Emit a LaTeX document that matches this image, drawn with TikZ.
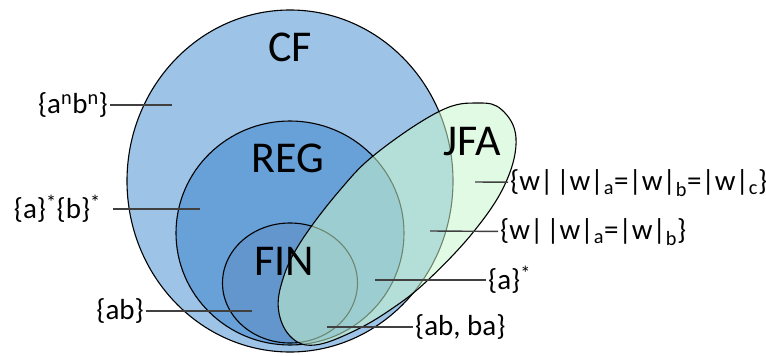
\documentclass[tikz,border=0pt]{standalone}
\usepackage{fontspec}
\setmainfont{Carlito}
\usetikzlibrary{shapes.geometric,positioning}
\definecolor{cfcolor}{RGB}{157,195,230}
\definecolor{regcolor}{RGB}{104,160,216}
\definecolor{fincolor}{RGB}{98,150,204}
\definecolor{jfacolor}{RGB}{200,245,205}

\begin{document}
\begin{tikzpicture}[x=1pt,y=-1pt]
  %%Create the styles for the classes, their names and the examples
  \tikzset{class/.style={draw=black,line width=1.1pt,ellipse,inner sep=0pt}}
  \tikzset{class name/.style={font=\fontsize{44}{48}\selectfont,inner sep=0pt}}
  \tikzset{example/.style={font=\fontsize{29}{32}\selectfont,inner sep=2pt}}
  \tikzset{pointer/.style={draw=black!75,line width=1.4pt}}
  \useasboundingbox (0,0) rectangle (766,356);
  %%The nested classes
  \node[class,fill=cfcolor,minimum width=326pt,minimum height=342pt] (cf) at (290,181) {};
  \node[class,fill=regcolor,minimum width=228pt,minimum height=224pt] (reg) at (290,233) {};
  \node[class,fill=fincolor,minimum width=135pt,minimum height=120pt] (fin) at (290,283) {};
  %%JFA is egg shaped, so it goes through points of its own
  \path[draw=black,line width=1.1pt,fill=jfacolor,fill opacity=.55]
    plot[smooth cycle,tension=.65] coordinates {(279,313) (292,338) (315,345) (352,332) (390,310)
      (428,280) (475,230) (506,182) (516,138) (502,110) (478,103) (440,111) (378,152)
      (340,190) (300,243) (282,282)};
  %%Class names
  \node[class name] (cfname) at (290,47) {CF};
  \node[class name] (regname) at (288,158) {REG};
  \node[class name] (finname) at (284,261) {FIN};
  \node[class name] (jfaname) at (472,142) {JFA};
  %%Points inside the classes where the pointers end
  \path (172,105) coordinate (in cf) (200,209) coordinate (in reg) (252,311) coordinate (in fin);
  \path (475,182) coordinate (in jfa) (430,231) coordinate (in jfacf) (375,280) coordinate (in jfareg) (327,327) coordinate (in jfafin);
  %%The examples
  \node[example,anchor=east] (anbn) at (110,105) {\{a\textsuperscript{n}b\textsuperscript{n}\}};
  \node[example,anchor=east] (astbst) at (103,209) {\{a\}\textsuperscript{*}\{b\}\textsuperscript{*}};
  \node[example,anchor=east] (ab) at (146,311) {\{ab\}};
  \node[example,anchor=west] (wabc) at (508,183) {\{w|\hspace{3pt}|w|\textsubscript{a}=|w|\textsubscript{b}=|w|\textsubscript{c}\}};
  \node[example,anchor=west] (wab) at (498,232) {\{w|\hspace{3pt}|w|\textsubscript{a}=|w|\textsubscript{b}\}};
  \node[example,anchor=west] (ast) at (486,280) {\{a\}\textsuperscript{*}};
  \node[example,anchor=west] (abba) at (413,327) {\{ab, ba\}};
  %%Drawing the pointers
  \path[pointer] (anbn) -- (in cf);
  \path[pointer] ([xshift=10pt]astbst.east) -- (in reg);
  \path[pointer] (ab) -- (in fin);
  \path[pointer] (wabc) -- (in jfa);
  \path[pointer] (wab) -- (in jfacf);
  \path[pointer] (ast) -- (in jfareg);
  \path[pointer] (abba) -- (in jfafin);
\end{tikzpicture}
\end{document}
